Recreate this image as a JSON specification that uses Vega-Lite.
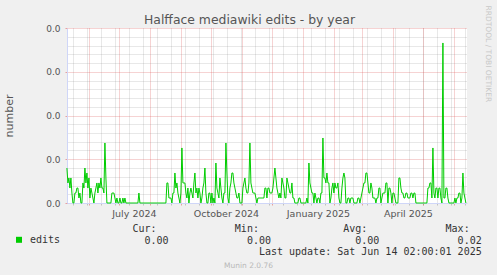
{
"$schema":"https://vega.github.io/schema/vega-lite/v6.json",
"width":400,"height":175,"autosize":"none",
"padding":{"left":67,"top":28,"right":30,"bottom":72},
"background":"#f0f0f0",
"config":{"view":{"fill":"#ffffff","stroke":null},"font":"DejaVu Sans","axis":{"labelFont":"DejaVu Sans","titleFont":"DejaVu Sans","titleFontWeight":"normal"}},
"data":{"values":[
{"date":"2024-05-10","edits":0.004},{"date":"2024-05-11","edits":0.00229},{"date":"2024-05-12","edits":0.00286},{"date":"2024-05-13","edits":0.00171},{"date":"2024-05-14","edits":0.00286},{"date":"2024-05-15","edits":0.00114},{"date":"2024-05-16","edits":0},{"date":"2024-05-17","edits":0},{"date":"2024-05-18","edits":0.00114},{"date":"2024-05-19","edits":0.00114},{"date":"2024-05-20","edits":0.00171},{"date":"2024-05-21","edits":0.00171},{"date":"2024-05-22","edits":0.00057},{"date":"2024-05-23","edits":0.00114},{"date":"2024-05-24","edits":0},{"date":"2024-05-25","edits":0},{"date":"2024-05-26","edits":0.00229},{"date":"2024-05-27","edits":0.00171},{"date":"2024-05-28","edits":0.004},{"date":"2024-05-29","edits":0.00229},{"date":"2024-05-30","edits":0.00343},{"date":"2024-05-31","edits":0.00171},
{"date":"2024-06-01","edits":0.00286},{"date":"2024-06-02","edits":0.00057},{"date":"2024-06-03","edits":0.00171},{"date":"2024-06-04","edits":0.00114},{"date":"2024-06-05","edits":0.00057},{"date":"2024-06-06","edits":0},{"date":"2024-06-07","edits":0.00114},{"date":"2024-06-08","edits":0.00171},{"date":"2024-06-09","edits":0.00229},{"date":"2024-06-10","edits":0.00114},{"date":"2024-06-11","edits":0.00229},{"date":"2024-06-12","edits":0.00171},{"date":"2024-06-13","edits":0.00286},{"date":"2024-06-14","edits":0.00171},{"date":"2024-06-15","edits":0.00171},{"date":"2024-06-16","edits":0.00114},{"date":"2024-06-17","edits":0.00686},{"date":"2024-06-18","edits":0.00286},{"date":"2024-06-19","edits":0},{"date":"2024-06-20","edits":0},{"date":"2024-06-21","edits":0},{"date":"2024-06-22","edits":0},{"date":"2024-06-23","edits":0},{"date":"2024-06-24","edits":0.00114},{"date":"2024-06-25","edits":0.00114},{"date":"2024-06-26","edits":0.00114},{"date":"2024-06-27","edits":0.00057},{"date":"2024-06-28","edits":0},{"date":"2024-06-29","edits":0.00057},{"date":"2024-06-30","edits":0},
{"date":"2024-07-01","edits":0},{"date":"2024-07-02","edits":0.00057},{"date":"2024-07-03","edits":0},{"date":"2024-07-04","edits":0},{"date":"2024-07-05","edits":0.00057},{"date":"2024-07-06","edits":0},{"date":"2024-07-07","edits":0.00057},{"date":"2024-07-08","edits":0},{"date":"2024-07-09","edits":0},{"date":"2024-07-10","edits":0},{"date":"2024-07-11","edits":0},{"date":"2024-07-12","edits":0},{"date":"2024-07-13","edits":0},{"date":"2024-07-14","edits":0},{"date":"2024-07-15","edits":0},{"date":"2024-07-16","edits":0},{"date":"2024-07-17","edits":0},{"date":"2024-07-18","edits":0},{"date":"2024-07-19","edits":0},{"date":"2024-07-20","edits":0},{"date":"2024-07-21","edits":0.00114},{"date":"2024-07-22","edits":0},{"date":"2024-07-23","edits":0},{"date":"2024-07-24","edits":0},{"date":"2024-07-25","edits":0},{"date":"2024-07-26","edits":0},{"date":"2024-07-27","edits":0},{"date":"2024-07-28","edits":0},{"date":"2024-07-29","edits":0},{"date":"2024-07-30","edits":0},{"date":"2024-07-31","edits":0},
{"date":"2024-08-01","edits":0},{"date":"2024-08-02","edits":0},{"date":"2024-08-03","edits":0},{"date":"2024-08-04","edits":0},{"date":"2024-08-05","edits":0},{"date":"2024-08-06","edits":0},{"date":"2024-08-07","edits":0},{"date":"2024-08-08","edits":0},{"date":"2024-08-09","edits":0},{"date":"2024-08-10","edits":0},{"date":"2024-08-11","edits":0},{"date":"2024-08-12","edits":0},{"date":"2024-08-13","edits":0},{"date":"2024-08-14","edits":0},{"date":"2024-08-15","edits":0},{"date":"2024-08-16","edits":0},{"date":"2024-08-17","edits":0},{"date":"2024-08-18","edits":0.00229},{"date":"2024-08-19","edits":0.00229},{"date":"2024-08-20","edits":0.00057},{"date":"2024-08-21","edits":0.00057},{"date":"2024-08-22","edits":0.00057},{"date":"2024-08-23","edits":0},{"date":"2024-08-24","edits":0.00114},{"date":"2024-08-25","edits":0.00114},{"date":"2024-08-26","edits":0.00343},{"date":"2024-08-27","edits":0.00171},{"date":"2024-08-28","edits":0.00229},{"date":"2024-08-29","edits":0.00114},{"date":"2024-08-30","edits":0.00057},{"date":"2024-08-31","edits":0},
{"date":"2024-09-01","edits":0.00114},{"date":"2024-09-02","edits":0.00629},{"date":"2024-09-03","edits":0.00229},{"date":"2024-09-04","edits":0.00229},{"date":"2024-09-05","edits":0.00229},{"date":"2024-09-06","edits":0.00114},{"date":"2024-09-07","edits":0.00057},{"date":"2024-09-08","edits":0.00171},{"date":"2024-09-09","edits":0},{"date":"2024-09-10","edits":0.00114},{"date":"2024-09-11","edits":0.00171},{"date":"2024-09-12","edits":0.00114},{"date":"2024-09-13","edits":0.00057},{"date":"2024-09-14","edits":0.00229},{"date":"2024-09-15","edits":0.00343},{"date":"2024-09-16","edits":0.00114},{"date":"2024-09-17","edits":0.00171},{"date":"2024-09-18","edits":0.00057},{"date":"2024-09-19","edits":0.00171},{"date":"2024-09-20","edits":0.00114},{"date":"2024-09-21","edits":0},{"date":"2024-09-22","edits":0.00057},{"date":"2024-09-23","edits":0.00171},{"date":"2024-09-24","edits":0.00229},{"date":"2024-09-25","edits":0.004},{"date":"2024-09-26","edits":0.00114},{"date":"2024-09-27","edits":0},{"date":"2024-09-28","edits":0},{"date":"2024-09-29","edits":0.00114},{"date":"2024-09-30","edits":0.00114},
{"date":"2024-10-01","edits":0},{"date":"2024-10-02","edits":0.00114},{"date":"2024-10-03","edits":0},{"date":"2024-10-04","edits":0.00057},{"date":"2024-10-05","edits":0},{"date":"2024-10-06","edits":0.00457},{"date":"2024-10-07","edits":0.00171},{"date":"2024-10-08","edits":0.00114},{"date":"2024-10-09","edits":0.00057},{"date":"2024-10-10","edits":0.00286},{"date":"2024-10-11","edits":0.00171},{"date":"2024-10-12","edits":0.00057},{"date":"2024-10-13","edits":0},{"date":"2024-10-14","edits":0.00114},{"date":"2024-10-15","edits":0.00114},{"date":"2024-10-16","edits":0.00686},{"date":"2024-10-17","edits":0.00343},{"date":"2024-10-18","edits":0.00057},{"date":"2024-10-19","edits":0},{"date":"2024-10-20","edits":0.00171},{"date":"2024-10-21","edits":0.00229},{"date":"2024-10-22","edits":0.00343},{"date":"2024-10-23","edits":0.00343},{"date":"2024-10-24","edits":0.00229},{"date":"2024-10-25","edits":0.00171},{"date":"2024-10-26","edits":0.00114},{"date":"2024-10-27","edits":0.00057},{"date":"2024-10-28","edits":0.00057},{"date":"2024-10-29","edits":0.00114},{"date":"2024-10-30","edits":0},{"date":"2024-10-31","edits":0},
{"date":"2024-11-01","edits":0},{"date":"2024-11-02","edits":0.00171},{"date":"2024-11-03","edits":0.00229},{"date":"2024-11-04","edits":0.00286},{"date":"2024-11-05","edits":0.00171},{"date":"2024-11-06","edits":0.00114},{"date":"2024-11-07","edits":0.00114},{"date":"2024-11-08","edits":0.00229},{"date":"2024-11-09","edits":0.00686},{"date":"2024-11-10","edits":0.00229},{"date":"2024-11-11","edits":0.00171},{"date":"2024-11-12","edits":0.00114},{"date":"2024-11-13","edits":0.00114},{"date":"2024-11-14","edits":0.00114},{"date":"2024-11-15","edits":0.00057},{"date":"2024-11-16","edits":0},{"date":"2024-11-17","edits":0.00057},{"date":"2024-11-18","edits":0.00057},{"date":"2024-11-19","edits":0.00057},{"date":"2024-11-20","edits":0.00057},{"date":"2024-11-21","edits":0.00057},{"date":"2024-11-22","edits":0.00057},{"date":"2024-11-23","edits":0.00057},{"date":"2024-11-24","edits":0.00171},{"date":"2024-11-25","edits":0.00171},{"date":"2024-11-26","edits":0.00057},{"date":"2024-11-27","edits":0.00171},{"date":"2024-11-28","edits":0.00171},{"date":"2024-11-29","edits":0.00114},{"date":"2024-11-30","edits":0.00114},
{"date":"2024-12-01","edits":0.00114},{"date":"2024-12-02","edits":0.00171},{"date":"2024-12-03","edits":0.00286},{"date":"2024-12-04","edits":0.004},{"date":"2024-12-05","edits":0.00286},{"date":"2024-12-06","edits":0.00171},{"date":"2024-12-07","edits":0.00114},{"date":"2024-12-08","edits":0.00057},{"date":"2024-12-09","edits":0.00114},{"date":"2024-12-10","edits":0.00057},{"date":"2024-12-11","edits":0.00286},{"date":"2024-12-12","edits":0.00229},{"date":"2024-12-13","edits":0.00171},{"date":"2024-12-14","edits":0.00057},{"date":"2024-12-15","edits":0.00057},{"date":"2024-12-16","edits":0.00286},{"date":"2024-12-17","edits":0.00229},{"date":"2024-12-18","edits":0.00171},{"date":"2024-12-19","edits":0.00114},{"date":"2024-12-20","edits":0.00114},{"date":"2024-12-21","edits":0.00229},{"date":"2024-12-22","edits":0.00057},{"date":"2024-12-23","edits":0.00057},{"date":"2024-12-24","edits":0},{"date":"2024-12-25","edits":0},{"date":"2024-12-26","edits":0},{"date":"2024-12-27","edits":0},{"date":"2024-12-28","edits":0.00057},{"date":"2024-12-29","edits":0.00057},{"date":"2024-12-30","edits":0},{"date":"2024-12-31","edits":0},
{"date":"2025-01-01","edits":0},{"date":"2025-01-02","edits":0},{"date":"2025-01-03","edits":0},{"date":"2025-01-04","edits":0},{"date":"2025-01-05","edits":0.00057},{"date":"2025-01-06","edits":0},{"date":"2025-01-07","edits":0.00457},{"date":"2025-01-08","edits":0.00229},{"date":"2025-01-09","edits":0.00171},{"date":"2025-01-10","edits":0.00114},{"date":"2025-01-11","edits":0.00114},{"date":"2025-01-12","edits":0},{"date":"2025-01-13","edits":0.00114},{"date":"2025-01-14","edits":0.00057},{"date":"2025-01-15","edits":0},{"date":"2025-01-16","edits":0.00057},{"date":"2025-01-17","edits":0.00057},{"date":"2025-01-18","edits":0},{"date":"2025-01-19","edits":0.00114},{"date":"2025-01-20","edits":0.00114},{"date":"2025-01-21","edits":0.00743},{"date":"2025-01-22","edits":0.00286},{"date":"2025-01-23","edits":0.00286},{"date":"2025-01-24","edits":0.00229},{"date":"2025-01-25","edits":0.00343},{"date":"2025-01-26","edits":0.00229},{"date":"2025-01-27","edits":0.00229},{"date":"2025-01-28","edits":0},{"date":"2025-01-29","edits":0.00057},{"date":"2025-01-30","edits":0.00171},{"date":"2025-01-31","edits":0.00229},
{"date":"2025-02-01","edits":0.00114},{"date":"2025-02-02","edits":0.00229},{"date":"2025-02-03","edits":0.00171},{"date":"2025-02-04","edits":0.00171},{"date":"2025-02-05","edits":0.00229},{"date":"2025-02-06","edits":0.00057},{"date":"2025-02-07","edits":0},{"date":"2025-02-08","edits":0},{"date":"2025-02-09","edits":0.00171},{"date":"2025-02-10","edits":0.00286},{"date":"2025-02-11","edits":0.00343},{"date":"2025-02-12","edits":0.00286},{"date":"2025-02-13","edits":0},{"date":"2025-02-14","edits":0},{"date":"2025-02-15","edits":0.00057},{"date":"2025-02-16","edits":0.00057},{"date":"2025-02-17","edits":0},{"date":"2025-02-18","edits":0.00057},{"date":"2025-02-19","edits":0.00057},{"date":"2025-02-20","edits":0.00057},{"date":"2025-02-21","edits":0},{"date":"2025-02-22","edits":0},{"date":"2025-02-23","edits":0},{"date":"2025-02-24","edits":0},{"date":"2025-02-25","edits":0.00057},{"date":"2025-02-26","edits":0.00057},{"date":"2025-02-27","edits":0},{"date":"2025-02-28","edits":0.00057},
{"date":"2025-03-01","edits":0.00114},{"date":"2025-03-02","edits":0.00171},{"date":"2025-03-03","edits":0.00229},{"date":"2025-03-04","edits":0.00229},{"date":"2025-03-05","edits":0.00343},{"date":"2025-03-06","edits":0.00343},{"date":"2025-03-07","edits":0.00229},{"date":"2025-03-08","edits":0.00114},{"date":"2025-03-09","edits":0.00114},{"date":"2025-03-10","edits":0.00229},{"date":"2025-03-11","edits":0.00171},{"date":"2025-03-12","edits":0.00057},{"date":"2025-03-13","edits":0.00057},{"date":"2025-03-14","edits":0.00057},{"date":"2025-03-15","edits":0},{"date":"2025-03-16","edits":0.00057},{"date":"2025-03-17","edits":0.00057},{"date":"2025-03-18","edits":0.00171},{"date":"2025-03-19","edits":0.00171},{"date":"2025-03-20","edits":0},{"date":"2025-03-21","edits":0.00057},{"date":"2025-03-22","edits":0.00114},{"date":"2025-03-23","edits":0.00114},{"date":"2025-03-24","edits":0.00114},{"date":"2025-03-25","edits":0.00229},{"date":"2025-03-26","edits":0.00229},{"date":"2025-03-27","edits":0},{"date":"2025-03-28","edits":0.00171},{"date":"2025-03-29","edits":0.00171},{"date":"2025-03-30","edits":0.00114},{"date":"2025-03-31","edits":0},
{"date":"2025-04-01","edits":0.00114},{"date":"2025-04-02","edits":0.00114},{"date":"2025-04-03","edits":0.00057},{"date":"2025-04-04","edits":0},{"date":"2025-04-05","edits":0},{"date":"2025-04-06","edits":0},{"date":"2025-04-07","edits":0.00286},{"date":"2025-04-08","edits":0.00286},{"date":"2025-04-09","edits":0.00171},{"date":"2025-04-10","edits":0.00114},{"date":"2025-04-11","edits":0.00114},{"date":"2025-04-12","edits":0.00057},{"date":"2025-04-13","edits":0.00057},{"date":"2025-04-14","edits":0.00114},{"date":"2025-04-15","edits":0.00114},{"date":"2025-04-16","edits":0.00057},{"date":"2025-04-17","edits":0.00057},{"date":"2025-04-18","edits":0.00057},{"date":"2025-04-19","edits":0.00114},{"date":"2025-04-20","edits":0.00114},{"date":"2025-04-21","edits":0.00057},{"date":"2025-04-22","edits":0.00114},{"date":"2025-04-23","edits":0.00114},{"date":"2025-04-24","edits":0},{"date":"2025-04-25","edits":0},{"date":"2025-04-26","edits":0},{"date":"2025-04-27","edits":0},{"date":"2025-04-28","edits":0},{"date":"2025-04-29","edits":0},{"date":"2025-04-30","edits":0},
{"date":"2025-05-01","edits":0},{"date":"2025-05-02","edits":0},{"date":"2025-05-03","edits":0},{"date":"2025-05-04","edits":0},{"date":"2025-05-05","edits":0},{"date":"2025-05-06","edits":0.00171},{"date":"2025-05-07","edits":0.00171},{"date":"2025-05-08","edits":0.00229},{"date":"2025-05-09","edits":0.00229},{"date":"2025-05-10","edits":0.00057},{"date":"2025-05-11","edits":0.00629},{"date":"2025-05-12","edits":0.00114},{"date":"2025-05-13","edits":0.00057},{"date":"2025-05-14","edits":0.00171},{"date":"2025-05-15","edits":0.00171},{"date":"2025-05-16","edits":0.00057},{"date":"2025-05-17","edits":0.00171},{"date":"2025-05-18","edits":0.00171},{"date":"2025-05-19","edits":0.00057},{"date":"2025-05-20","edits":0},{"date":"2025-05-21","edits":0.01829},{"date":"2025-05-22","edits":0.00057},{"date":"2025-05-23","edits":0.00057},{"date":"2025-05-24","edits":0.00171},{"date":"2025-05-25","edits":0.00171},{"date":"2025-05-26","edits":0.00057},{"date":"2025-05-27","edits":0},{"date":"2025-05-28","edits":0},{"date":"2025-05-29","edits":0},{"date":"2025-05-30","edits":0},{"date":"2025-05-31","edits":0},
{"date":"2025-06-01","edits":0},{"date":"2025-06-02","edits":0.00057},{"date":"2025-06-03","edits":0},{"date":"2025-06-04","edits":0.00057},{"date":"2025-06-05","edits":0.00057},{"date":"2025-06-06","edits":0.00114},{"date":"2025-06-07","edits":0.00114},{"date":"2025-06-08","edits":0},{"date":"2025-06-09","edits":0.00057},{"date":"2025-06-10","edits":0.00343},{"date":"2025-06-11","edits":0.00114},{"date":"2025-06-12","edits":0.00057},{"date":"2025-06-13","edits":0}
]},
"resolve":{"axis":{"x":"independent","y":"independent"}},
"layer":[
{"mark":{"type":"line","strokeOpacity":0},
 "encoding":{
  "x":{"field":"date","type":"temporal","scale":{"type":"utc","nice":false,"domain":[{"year":2024,"month":5,"date":10,"hours":2,"utc":true},{"year":2025,"month":6,"date":14,"hours":2,"utc":true}]},
   "axis":{"orient":"bottom","values":[{"year":2024,"month":5,"date":16,"utc":true},{"year":2024,"month":5,"date":30,"utc":true},{"year":2024,"month":6,"date":13,"utc":true},{"year":2024,"month":6,"date":27,"utc":true},{"year":2024,"month":7,"date":11,"utc":true},{"year":2024,"month":7,"date":25,"utc":true},{"year":2024,"month":8,"date":8,"utc":true},{"year":2024,"month":8,"date":22,"utc":true},{"year":2024,"month":9,"date":5,"utc":true},{"year":2024,"month":9,"date":19,"utc":true},{"year":2024,"month":10,"date":3,"utc":true},{"year":2024,"month":10,"date":17,"utc":true},{"year":2024,"month":10,"date":31,"utc":true},{"year":2024,"month":11,"date":14,"utc":true},{"year":2024,"month":11,"date":28,"utc":true},{"year":2024,"month":12,"date":12,"utc":true},{"year":2024,"month":12,"date":26,"utc":true},{"year":2025,"month":1,"date":9,"utc":true},{"year":2025,"month":1,"date":23,"utc":true},{"year":2025,"month":2,"date":6,"utc":true},{"year":2025,"month":2,"date":20,"utc":true},{"year":2025,"month":3,"date":6,"utc":true},{"year":2025,"month":3,"date":20,"utc":true},{"year":2025,"month":4,"date":3,"utc":true},{"year":2025,"month":4,"date":17,"utc":true},{"year":2025,"month":5,"date":1,"utc":true},{"year":2025,"month":5,"date":15,"utc":true},{"year":2025,"month":5,"date":29,"utc":true},{"year":2025,"month":6,"date":12,"utc":true}],
    "grid":true,"gridColor":"#8f8f8f","gridOpacity":0.4,"gridDash":[1,1],"gridWidth":1,"labels":false,"ticks":true,"tickColor":"#8f8f8f","tickOpacity":0.5,"tickSize":2,"domain":false,
    "title":"Munin 2.0.76","titleX":181,"titleY":64,"titleAlign":"center","titleBaseline":"alphabetic","titleFontSize":7.5,"titleColor":"#b8b8b8"}},
  "y":{"field":"edits","type":"quantitative","scale":{"domain":[0,0.02],"nice":false},
   "axis":{"orient":"left","values":[0.001,0.002,0.003,0.004,0.006,0.007,0.008,0.009,0.011,0.012,0.013,0.014,0.016,0.017,0.018,0.019],"grid":true,"gridColor":"#8f8f8f","gridOpacity":0.4,"gridDash":[1,1],"gridWidth":1,"labels":false,"ticks":false,"domain":false,"title":null}}
 }},
{"mark":{"type":"line","strokeOpacity":0},
 "encoding":{
  "x":{"field":"date","type":"temporal","scale":{"type":"utc","nice":false,"domain":[{"year":2024,"month":5,"date":10,"hours":2,"utc":true},{"year":2025,"month":6,"date":14,"hours":2,"utc":true}]},
   "axis":{"orient":"bottom","values":[{"year":2024,"month":6,"date":1,"utc":true},{"year":2024,"month":7,"date":1,"utc":true},{"year":2024,"month":8,"date":1,"utc":true},{"year":2024,"month":9,"date":1,"utc":true},{"year":2024,"month":10,"date":1,"utc":true},{"year":2024,"month":11,"date":1,"utc":true},{"year":2024,"month":12,"date":1,"utc":true},{"year":2025,"month":1,"date":1,"utc":true},{"year":2025,"month":2,"date":1,"utc":true},{"year":2025,"month":3,"date":1,"utc":true},{"year":2025,"month":4,"date":1,"utc":true},{"year":2025,"month":5,"date":1,"utc":true},{"year":2025,"month":6,"date":1,"utc":true}],
    "grid":true,"gridColor":"#de4f4f","gridOpacity":0.5,"gridDash":[1,1],"gridWidth":1,"labels":false,"ticks":true,"tickColor":"#de4f4f","tickOpacity":0.5,"tickSize":2,"domain":false,
    "title":"Halfface mediawiki edits - by year","titleX":182,"titleY":-179.5,"titleAlign":"center","titleBaseline":"alphabetic","titleFontSize":12.4,"titleColor":"#555555"}},
  "y":{"field":"edits","type":"quantitative","scale":{"domain":[0,0.02],"nice":false},
   "axis":{"orient":"left","values":[0,0.005,0.01,0.015,0.02],"format":".1f","grid":true,"gridColor":"#de4f4f","gridOpacity":0.5,"gridDash":[1,1],"gridWidth":1,"ticks":true,"tickColor":"#de4f4f","tickOpacity":0.5,"tickSize":2,"labelPadding":5,"labelFontSize":9,"labelColor":"#555555","domain":true,"domainColor":"#cfd6f8",
    "title":"number","titleX":-54.5,"titleY":87.5,"titleAngle":-90,"titleAlign":"center","titleBaseline":"alphabetic","titleFontSize":11,"titleColor":"#555555"}}
 }},
{"mark":{"type":"line","strokeWidth":1,"interpolate":"linear"},
 "encoding":{
  "x":{"field":"date","type":"temporal","scale":{"type":"utc","nice":false,"domain":[{"year":2024,"month":5,"date":10,"hours":2,"utc":true},{"year":2025,"month":6,"date":14,"hours":2,"utc":true}]},
   "axis":{"orient":"bottom","values":[{"year":2024,"month":7,"date":16,"utc":true},{"year":2024,"month":10,"date":16,"utc":true},{"year":2025,"month":1,"date":16,"utc":true},{"year":2025,"month":4,"date":16,"utc":true}],
    "labelExpr":"utcFormat(datum.value, '%B %Y')","grid":false,"ticks":false,"domain":true,"domainColor":"#cfd6f8","labelFontSize":9.5,"labelColor":"#555555","labelPadding":5,"labelFlush":false,"labelOverlap":false,
    "title":["\u200bCur:\u00a0\u00a0\u00a0\u00a0\u00a0\u00a0\u00a0\u00a0\u00a0\u00a0\u00a0\u00a0\u00a0Min:\u00a0\u00a0\u00a0\u00a0\u00a0\u00a0\u00a0\u00a0\u00a0\u00a0\u00a0\u00a0\u00a0\u00a0Avg:\u00a0\u00a0\u00a0\u00a0\u00a0\u00a0\u00a0\u00a0\u00a0\u00a0\u00a0\u00a0\u00a0Max:","\u200b\u00a0\u00a00.00\u00a0\u00a0\u00a0\u00a0\u00a0\u00a0\u00a0\u00a0\u00a0\u00a0\u00a0\u00a0\u00a00.00\u00a0\u00a0\u00a0\u00a0\u00a0\u00a0\u00a0\u00a0\u00a0\u00a0\u00a0\u00a0\u00a0\u00a00.00\u00a0\u00a0\u00a0\u00a0\u00a0\u00a0\u00a0\u00a0\u00a0\u00a0\u00a0\u00a0\u00a00.02","\u200b\u00a0\u00a0\u00a0\u00a0\u00a0\u00a0\u00a0\u00a0\u00a0\u00a0\u00a0\u00a0\u00a0\u00a0\u00a0\u00a0\u00a0\u00a0\u00a0\u00a0\u00a0Last update: Sat Jun 14 02:00:01 2025"],
    "titleX":65,"titleY":28.5,"titleAlign":"left","titleBaseline":"alphabetic","titleFont":"DejaVu Sans Mono","titleFontSize":10,"titleLineHeight":11.7,"titleColor":"#333333"}},
  "y":{"field":"edits","type":"quantitative","scale":{"domain":[0,0.02],"nice":false},
   "axis":{"orient":"right","labels":false,"ticks":false,"grid":false,"domain":false,
    "title":"RRDTOOL / TOBI OETIKER","titleX":18.5,"titleY":-23,"titleAngle":90,"titleAlign":"left","titleBaseline":"alphabetic","titleFontSize":7.5,"titleColor":"#c8c8c8"}},
  "color":{"datum":"edits","scale":{"range":["#00cc00"]},
   "legend":{"orient":"none","legendX":-53,"legendY":206.8,"title":null,"symbolType":"square","symbolSize":36,"symbolFillColor":"#00cc00","symbolStrokeColor":"#00cc00","symbolStrokeWidth":0,"labelFont":"DejaVu Sans Mono","labelFontSize":10,"labelColor":"#333333","labelOffset":6,"padding":0,
    "encode":{"symbols":{"update":{"fill":{"value":"#00cc00"},"strokeWidth":{"value":0}}}}}}
 }}
]
}
